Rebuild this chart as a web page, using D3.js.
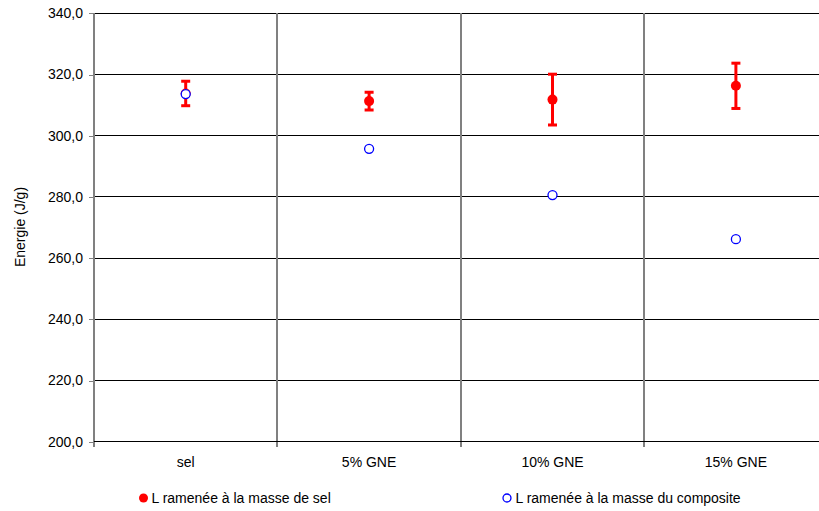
<!DOCTYPE html>
<html><head><meta charset="utf-8">
<script src="https://cdn.jsdelivr.net/npm/d3@7"></script>
<style>body{margin:0;background:#fff}svg{display:block;font-family:"Liberation Sans",Arial,sans-serif}</style>
</head><body><svg id="c" width="819" height="511"></svg>
<script>
const categories = ["sel","5% GNE","10% GNE","15% GNE"];
const selMass = [313.8, 311.3, 311.8, 316.3];
const selErr = [4.0, 2.9, 8.3, 7.4];
const compositeMass = [313.6, 295.7, 280.6, 266.2];
const yTicks = [200,220,240,260,280,300,320,340];
const seriesNames = ["L ramenée à la masse de sel","L ramenée à la masse du composite"];

const svg = d3.select("#c");
const pLeft = 94, pTop = 13.3, pBottom = 441.7, step = 183.4;
const x = d3.scaleBand().domain(categories).range([pLeft, pLeft + step*categories.length]).padding(0);
const y = d3.scaleLinear().domain([200,340]).range([pBottom, pTop]);
const fmt = v => d3.format(".1f")(v).replace(".", ",");

const g = svg.append("g").attr("shape-rendering","crispEdges");
g.selectAll("line.h").data(yTicks).join("line")
  .attr("x1", pLeft).attr("x2", 819).attr("y1", d=>y(d)).attr("y2", d=>y(d))
  .attr("stroke", "#000").attr("stroke-width", 1);
g.selectAll("line.v").data(categories.slice(1)).join("line")
  .attr("x1", d=>Math.round(x(d))).attr("x2", d=>Math.round(x(d))).attr("y1", pTop).attr("y2", pBottom+5)
  .attr("stroke", "#808080").attr("stroke-width", 2);
const ya = svg.append("g").attr("transform", `translate(${pLeft},0)`)
  .call(d3.axisLeft(y).tickValues(yTicks).tickFormat(fmt).tickSize(5).tickPadding(6));
ya.select(".domain").attr("stroke","#808080").attr("stroke-width",2).attr("shape-rendering","crispEdges").attr("d", `M0,${pTop}V${pBottom}`);
ya.selectAll(".tick line").attr("stroke","#808080").attr("shape-rendering","crispEdges");
ya.selectAll(".tick text").attr("font-size",14).attr("fill","#000").attr("font-family","Liberation Sans, Arial, sans-serif");
svg.append("line").attr("x1",pLeft).attr("x2",pLeft).attr("y1",pBottom).attr("y2",pBottom+5).attr("stroke","#808080").attr("stroke-width",2).attr("shape-rendering","crispEdges");
svg.append("line").attr("x1",pLeft).attr("x2",819).attr("y1",pBottom).attr("y2",pBottom).attr("stroke","#000").attr("stroke-width",1).attr("shape-rendering","crispEdges");
svg.selectAll("text.cat").data(categories).join("text")
  .attr("x", d=>x(d)+x.bandwidth()/2).attr("y", 467).attr("text-anchor","middle")
  .attr("font-size",14).text(d=>d);
svg.append("text").attr("transform","translate(25,227) rotate(-90)").attr("text-anchor","middle")
  .attr("font-size",14).text("Energie (J/g)");

const cx = i => x(categories[i]) + x.bandwidth()/2;
const eb = svg.append("g").attr("stroke","#ff0000").attr("stroke-width",3);
selMass.forEach((v,i)=>{
  const c = cx(i);
  eb.append("line").attr("x1",c).attr("x2",c).attr("y1",y(v+selErr[i])).attr("y2",y(v-selErr[i]));
  eb.append("line").attr("x1",c-4.5).attr("x2",c+4.5).attr("y1",y(v+selErr[i])).attr("y2",y(v+selErr[i]));
  eb.append("line").attr("x1",c-4.5).attr("x2",c+4.5).attr("y1",y(v-selErr[i])).attr("y2",y(v-selErr[i]));
});
svg.selectAll("circle.s").data(selMass).join("circle")
  .attr("cx",(d,i)=>cx(i)).attr("cy",d=>y(d)).attr("r",5).attr("fill","#ff0000");
svg.selectAll("circle.c").data(compositeMass).join("circle")
  .attr("cx",(d,i)=>cx(i)).attr("cy",d=>y(d)).attr("r",4.5).attr("fill","#fff").attr("stroke","#0000ff").attr("stroke-width",1.3);

const lg = svg.append("g");
lg.append("circle").attr("cx",143.5).attr("cy",498).attr("r",4.5).attr("fill","#ff0000");
lg.append("text").attr("x",151.5).attr("y",503).attr("font-size",14).text(seriesNames[0]);
lg.append("circle").attr("cx",507).attr("cy",498).attr("r",4).attr("fill","#fff").attr("stroke","#0000ff").attr("stroke-width",1.3);
lg.append("text").attr("x",515.5).attr("y",503).attr("font-size",14).text(seriesNames[1]);
</script></body></html>
